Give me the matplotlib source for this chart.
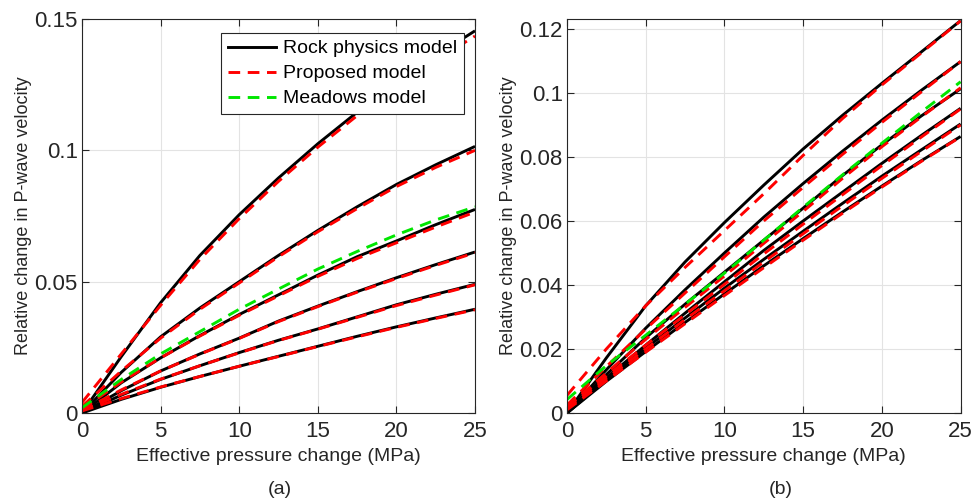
import numpy as np
import matplotlib
matplotlib.use('Agg')
import matplotlib.pyplot as plt
from matplotlib.lines import Line2D

# effective pressure change (MPa)
pressure = [0, 2.5, 5, 7.5, 10, 12.5, 15, 17.5, 20, 22.5, 25]

# panel (a): rock physics model curves
rock_a = [
    [0, 0.0215, 0.0420, 0.0600, 0.0755, 0.0895, 0.1025, 0.1145, 0.1255, 0.1360, 0.1455],
    [0, 0.0155, 0.0290, 0.0400, 0.0500, 0.0600, 0.0695, 0.0785, 0.0870, 0.0945, 0.1015],
    [0, 0.0115, 0.0210, 0.0295, 0.0375, 0.0450, 0.0525, 0.0595, 0.0655, 0.0717, 0.0775],
    [0, 0.0085, 0.0160, 0.0225, 0.0285, 0.0350, 0.0407, 0.0462, 0.0515, 0.0565, 0.0613],
    [0, 0.0068, 0.0128, 0.0180, 0.0230, 0.0277, 0.0320, 0.0366, 0.0412, 0.0452, 0.0490],
    [0, 0.0052, 0.0098, 0.0139, 0.0178, 0.0216, 0.0254, 0.0292, 0.0328, 0.0362, 0.0395],
]
# panel (a): proposed model curves
proposed_a = [
    [0.0040, 0.0225, 0.0410, 0.0585, 0.0740, 0.0882, 0.1012, 0.1132, 0.1242, 0.1342, 0.1435],
    [0.0025, 0.0160, 0.0285, 0.0395, 0.0495, 0.0595, 0.0690, 0.0778, 0.0862, 0.0935, 0.1000],
    [0.0015, 0.0118, 0.0210, 0.0293, 0.0372, 0.0446, 0.0520, 0.0588, 0.0648, 0.0708, 0.0765],
    [0.0010, 0.0088, 0.0160, 0.0224, 0.0284, 0.0348, 0.0405, 0.0460, 0.0512, 0.0562, 0.0610],
    [0.0010, 0.0071, 0.0129, 0.0180, 0.0229, 0.0276, 0.0319, 0.0364, 0.0409, 0.0449, 0.0488],
    [0.0008, 0.0055, 0.0099, 0.0139, 0.0178, 0.0215, 0.0253, 0.0290, 0.0326, 0.0360, 0.0393],
]
# panel (a): Meadows model
meadows_a = [0.0020, 0.0128, 0.0225, 0.0310, 0.0395, 0.0472, 0.0548, 0.0615, 0.0678, 0.0735, 0.0785]

# panel (b)
rock_b = [
    [0, 0.0172, 0.0335, 0.0472, 0.0595, 0.0712, 0.0825, 0.0930, 0.1030, 0.1128, 0.1226],
    [0, 0.0135, 0.0265, 0.0385, 0.0500, 0.0612, 0.0717, 0.0818, 0.0915, 0.1008, 0.1098],
    [0, 0.0120, 0.0235, 0.0340, 0.0440, 0.0540, 0.0640, 0.0742, 0.0838, 0.0928, 0.1013],
    [0, 0.0110, 0.0212, 0.0312, 0.0410, 0.0508, 0.0600, 0.0690, 0.0780, 0.0867, 0.0952],
    [0, 0.0104, 0.0202, 0.0297, 0.0390, 0.0480, 0.0568, 0.0655, 0.0740, 0.0822, 0.0903],
    [0, 0.0099, 0.0192, 0.0283, 0.0372, 0.0460, 0.0545, 0.0628, 0.0709, 0.0788, 0.0864],
]
proposed_b = [
    [0.0055, 0.0200, 0.0335, 0.0455, 0.0570, 0.0685, 0.0805, 0.0920, 0.1025, 0.1125, 0.1225],
    [0.0025, 0.0145, 0.0262, 0.0375, 0.0488, 0.0600, 0.0705, 0.0808, 0.0908, 0.1003, 0.1098],
    [0.0020, 0.0125, 0.0230, 0.0330, 0.0428, 0.0530, 0.0630, 0.0733, 0.0832, 0.0925, 0.1016],
    [0.0020, 0.0115, 0.0212, 0.0307, 0.0402, 0.0497, 0.0590, 0.0682, 0.0773, 0.0862, 0.0950],
    [0.0015, 0.0108, 0.0200, 0.0292, 0.0382, 0.0472, 0.0560, 0.0647, 0.0733, 0.0817, 0.0900],
    [0.0010, 0.0100, 0.0190, 0.0279, 0.0367, 0.0454, 0.0540, 0.0624, 0.0706, 0.0786, 0.0863],
]
meadows_b = [0.0042, 0.0148, 0.0243, 0.0340, 0.0437, 0.0540, 0.0643, 0.0744, 0.0843, 0.0940, 0.1035]

yticks_a = [0, 0.05, 0.1, 0.15]
yticks_b = [0, 0.02, 0.04, 0.06, 0.08, 0.1, 0.12]
xticks = [0, 5, 10, 15, 20, 25]

plt.rcParams['font.family'] = ['Liberation Sans', 'DejaVu Sans']
TXT = '#262626'
GREEN = '#00e600'
DASH = (4, 2.6)


def draw_panel(ax, rock, proposed, meadows, yticks, ylim):
    for y in rock:
        ax.plot(pressure, y, color='black', lw=2.1, solid_capstyle='butt')
    for y in proposed:
        ax.plot(pressure, y, color='red', lw=2.1, dashes=DASH)
    ax.plot(pressure, meadows, color=GREEN, lw=2.1, dashes=DASH)

    ax.set_xlim(0, 25)
    ax.set_ylim(*ylim)
    ax.set_xticks(xticks)
    ax.set_yticks(yticks)
    ax.set_yticklabels([f'{v:g}' for v in yticks])
    ax.grid(True, color='#e3e3e3', lw=0.8)
    ax.set_axisbelow(True)
    ax.tick_params(direction='in', top=True, right=True, length=5,
                   colors=TXT, labelsize=16, width=0.8)
    ax.tick_params(axis='x', pad=6)
    ax.tick_params(axis='y', pad=3)
    for sp in ax.spines.values():
        sp.set_color(TXT)
        sp.set_linewidth(0.8)
    ax.set_xlabel('Effective pressure change (MPa)', fontsize=14, color=TXT, labelpad=4)
    ax.set_ylabel('Relative change in P-wave velocity', fontsize=13, color=TXT, labelpad=1.5)


fig = plt.figure(figsize=(9.72, 5.0), dpi=100)
ax1 = fig.add_axes([0.0844, 0.174, 0.4043, 0.788])
ax2 = fig.add_axes([0.5833, 0.174, 0.405, 0.788])

draw_panel(ax1, rock_a, proposed_a, meadows_a, yticks_a, (0, 0.15))
draw_panel(ax2, rock_b, proposed_b, meadows_b, yticks_b, (0, 0.1231))

fig.text(280 / 972, 0.02, '(a)', ha='center', va='center', fontsize=14, color=TXT)
fig.text(781 / 972, 0.02, '(b)', ha='center', va='center', fontsize=14, color=TXT)

# legend only in panel (a)
handles = [
    Line2D([], [], color='black', lw=2.1),
    Line2D([], [], color='red', lw=2.1, dashes=DASH),
    Line2D([], [], color=GREEN, lw=2.1, dashes=DASH),
]
leg = ax1.legend(handles, ['Rock physics model', 'Proposed model', 'Meadows model'],
                 loc='upper right', bbox_to_anchor=(0.972, 0.9645), fontsize=14,
                 fancybox=False, framealpha=1, edgecolor=TXT, handlelength=2.5,
                 handletextpad=0.35, borderpad=0.35, labelspacing=0.38, borderaxespad=0)
leg.get_frame().set_linewidth(0.8)

fig.savefig('out.png', dpi=100)
